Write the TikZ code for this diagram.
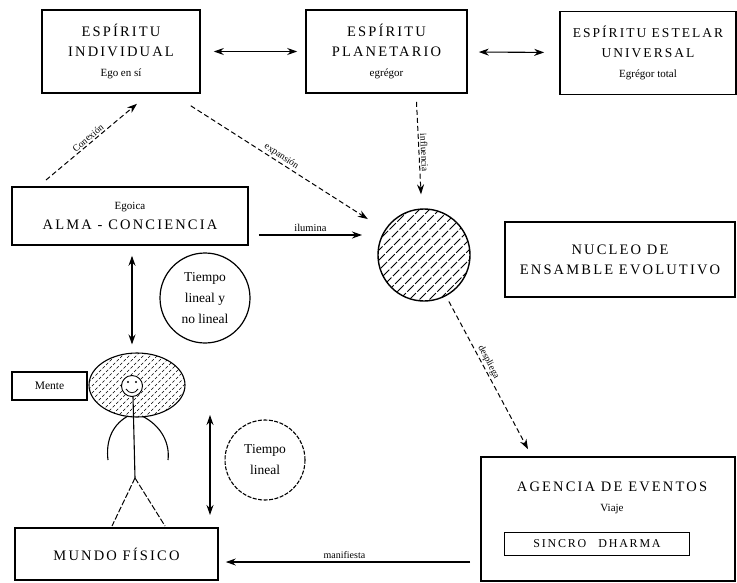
\documentclass[tikz,border=0pt]{standalone}
\usepackage{fontspec}
\setmainfont{Liberation Serif}
\newfontfamily\widefont[LetterSpace=15]{Liberation Serif}
\usetikzlibrary{arrows.meta,shapes.geometric}
\begin{document}
\begin{tikzpicture}[x=1pt,y=-1pt,
  >={Stealth[length=10pt,width=7pt]},
  box/.style={draw, line width=1.6pt, inner sep=0pt, align=center,
     font=\widefont\fontsize{14.5}{20}\selectfont},
  lbl/.style={font=\fontsize{9.5}{10}\selectfont, sloped, above, inner sep=1.5pt},
  conn/.style={line width=1.1pt},
  dconn/.style={line width=1pt, dash pattern=on 5pt off 3pt},
  ring/.style={circle, draw, line width=1.2pt, inner sep=0pt, align=center,
     font=\fontsize{13.5}{21}\selectfont},
  hatch/.style={line width=0.9pt, dash pattern=on 9pt off 2pt},
]
\useasboundingbox (0,0) rectangle (737,582);

% boxes
\node[box, minimum width=158pt, minimum height=83pt] (b1) at (121,51.5)
  {ESPÍRITU\\INDIVIDUAL\\{\normalfont\fontsize{11}{12}\selectfont Ego en sí}};
\node[box, minimum width=161pt, minimum height=83pt] (b2) at (386.5,51.5)
  {ESPÍRITU\\PLANETARIO\\{\normalfont\fontsize{11}{12}\selectfont egrégor}};
\node[box, minimum width=176pt, minimum height=83pt,
  font=\widefont\fontsize{13.5}{20}\selectfont] (b3) at (648,53)
  {ESPÍRITU ESTELAR\\UNIVERSAL\\{\normalfont\fontsize{11}{12}\selectfont Egrégor total}};
\node[box, minimum width=236pt, minimum height=58pt] (alma) at (130,216)
  {{\normalfont\fontsize{11}{12}\selectfont Egoica}\\ALMA - CONCIENCIA};
\node[box, minimum width=230pt, minimum height=75pt] (nucleo) at (620,259.5)
  {NUCLEO DE\\ENSAMBLE EVOLUTIVO};
\node[box, minimum width=254pt, minimum height=124pt] (agencia) at (608,519) {};
\node[align=center, font=\widefont\fontsize{14.5}{20}\selectfont] (agtxt) at (612,498)
  {AGENCIA DE EVENTOS\\{\normalfont\fontsize{11}{12}\selectfont Viaje}};
\node[draw, line width=0.6pt, minimum width=185pt, minimum height=23pt, inner sep=0pt,
  font=\widefont\fontsize{12}{14}\selectfont] (sincro) at (597,543.5)
  {SINCRO\quad DHARMA};
\node[box, minimum width=203pt, minimum height=52pt] (mundo) at (116.5,554)
  {MUNDO FÍSICO};
\node[box, line width=1.3pt, minimum width=75pt, minimum height=28pt,
  font=\fontsize{11.5}{12}\selectfont] (mente) at (49.5,386) {Mente};

% hatched circle (nucleo)
\node[circle, draw, line width=1.4pt, minimum size=92pt, inner sep=0pt] (cir) at (424,255) {};
\begin{scope}
  \clip (424,255) circle (46pt);
  \foreach \i in {-120,-110,...,120}
    \draw[hatch] (424+\i-60,315) -- (424+\i+60,195);
\end{scope}

% head with hatch
\node[ellipse, draw, line width=1.1pt, minimum width=96pt, minimum height=64pt, inner sep=0pt] (head) at (137,385) {};
\begin{scope}
  \clip (137,385) ellipse (48pt and 32pt);
  \foreach \i in {-100,-93,...,100}
    \draw[line width=0.5pt, dash pattern=on 3pt off 2pt] (137+\i-40,425) -- (137+\i+40,345);
\end{scope}
% face
\fill[white] (132,386) circle (10.5pt);
\draw[line width=0.9pt] (132,386) circle (10.5pt);
\fill (128,382) circle (1.2pt);
\fill (136,382) circle (1.2pt);
\draw[line width=0.8pt] (126,389) .. controls (129,394) and (135,394) .. (138,389);
% body
\draw[line width=1.1pt] (133,396.5) -- (135,478);
\draw[line width=1.1pt] (128,416) .. controls (110,426) and (106,444) .. (108,460);
\draw[line width=1.1pt] (142,416) .. controls (162,426) and (170,444) .. (168,460);
\draw[line width=1pt, dash pattern=on 6pt off 2pt] (135,478) -- (112,526);
\draw[line width=1pt, dash pattern=on 6pt off 2pt] (135,478) -- (165,526);

% time circles
\node[ring, minimum size=90pt] (tnl) at (205,298) {Tiempo\\lineal y\\no lineal};
\node[ring, minimum size=80pt, line width=1.1pt, dash pattern=on 4pt off 1.5pt] (tl) at (265,460) {Tiempo\\lineal};

% connectors
\draw[conn,<->, shorten <=13pt, shorten >=8pt] (b1) -- (b2);
\draw[conn,<->, shorten <=11pt, shorten >=15pt] (b2) -- (b3);
\draw[conn,<->, shorten <=10pt, shorten >=8pt] ([xshift=2pt]alma.south) -- ([xshift=-5pt]head.north);

\coordinate (ilE) at (362,235);
\draw[conn,->] ([xshift=10pt,yshift=-19pt]alma.east) -- node[above, font=\fontsize{10.5}{12}\selectfont, inner sep=3pt] {ilumina} (ilE);

\coordinate (ldT) at (46,180);
\draw[dconn,->] (ldT) -- node[lbl] {Conexión} ([xshift=16pt,yshift=-10pt]b1.south);

\draw[dconn,->, shorten >=20pt] ([xshift=-10pt,yshift=-12pt]b1.south east) -- node[lbl, pos=0.45] {expansión} (cir);

\draw[dconn,->, shorten >=14pt] ([xshift=30pt,yshift=-8pt]b2.south) -- node[lbl, pos=0.48] {influencia} (cir);

\draw[dconn,->, shorten <=6pt] (cir) -- node[lbl, pos=0.45] {despliega} ([xshift=-80pt,yshift=7pt]agencia.north);

\coordinate (tA) at (210,415);
\coordinate (tB) at (210,515);
\draw[conn,<->] (tA) -- (tB);

\coordinate (bA) at (470,562);
\draw[conn,->, shorten >=7pt] (bA) -- node[above, font=\fontsize{10}{11}\selectfont, inner sep=3pt] {manifiesta} (mundo.east |- bA);

\end{tikzpicture}
\end{document}
